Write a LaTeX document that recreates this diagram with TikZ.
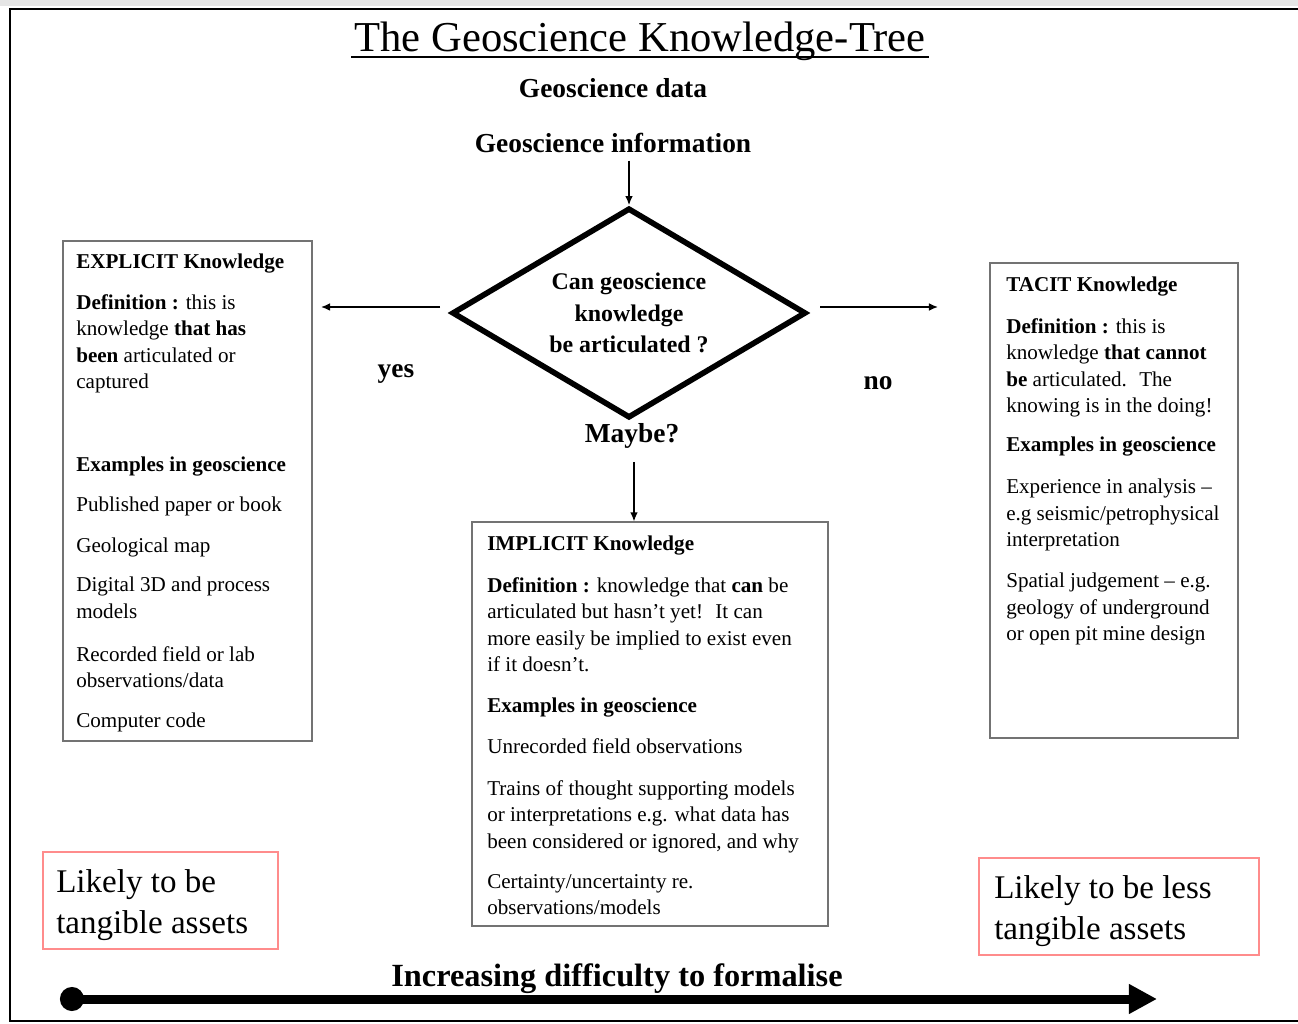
\documentclass[tikz,border=0pt]{standalone}
\usepackage{fontspec}
\setmainfont{Liberation Serif}
\usetikzlibrary{arrows.meta,shapes.geometric,fit}
\tikzset{
  >={Latex[length=6.5pt,width=5.5pt]},
  kbox/.style={draw=gray!90!black,line width=0.8pt,inner sep=0pt},
  abox/.style={draw=red!45,line width=0.8pt,inner sep=0pt},
  ktxt/.style={anchor=north west,inner sep=0pt,align=left,font=\fontsize{15}{18.8}\selectfont},
  khead/.style={anchor=west,inner sep=0pt,font=\fontsize{15}{18}\selectfont\bfseries},
  atxt/.style={anchor=north west,inner sep=0pt,align=left,font=\fontsize{23.5}{29.5}\selectfont},
  lbl/.style={anchor=base,inner sep=0pt,font=\fontsize{19.5}{24}\selectfont\bfseries},
  qdia/.style={diamond,draw,line width=4pt,aspect=1.68,minimum width=8.85cm,minimum height=5.25cm,inner sep=0pt,align=center,font=\fontsize{17}{22.4}\selectfont\bfseries},
  conn/.style={->,line width=1pt},
  difarrow/.style={{Circle[length=17pt]}-{Triangle[length=20pt,width=20pt]},line width=6.4pt},
}
\begin{document}
\begin{tikzpicture}[x=0.025cm,y=-0.025cm]
\useasboundingbox (0,0) rectangle (1298,1024);

% --- Frame and title -------------------------------------------------------

  \fill[gray!20] (0,0) rectangle (1298,6);
  \draw[line width=1.2pt] (1298,9) -- (10,9) -- (10,1021) -- (1298,1021);

  \node[anchor=base,inner sep=0pt,font=\fontsize{30.3}{36}\selectfont] (title) at (640,52) {The Geoscience Knowledge-Tree};
  \draw[line width=0.9pt] ([xshift=-2pt,yshift=-3.5pt]title.base west) -- ([xshift=2pt,yshift=-3.5pt]title.base east);

  \node[lbl] (gdata) at (613,98) {Geoscience data};

  \node[lbl] (ginfo) at (613,153) {Geoscience information};

% --- Decision ---------------------------------------------------------------

  \node[qdia] (dq) at (629,313) {Can geoscience\\knowledge\\be articulated ?};

  \node[lbl] (maybe) at (632,443) {Maybe?};

  \node[lbl] (yes) at (396,378) {yes};

  \node[lbl] (no) at (878,390) {no};

% --- Knowledge boxes --------------------------------------------------------

  \node[kbox,fit={(63,241) (312,741)}] (expl) {};

  \node[khead] (expl_h) at (76,264) {EXPLICIT Knowledge};
  \node[ktxt] (expl_def) at (76,294) {{\bfseries Definition :} this is\\knowledge {\bfseries that has}\\{\bfseries been} articulated or\\captured};
  \node[khead] (expl_ex) at (76,467) {Examples in geoscience};
  \node[ktxt] (expl_1) at (76,497) {Published paper or book};
  \node[ktxt] (expl_2) at (76,538) {Geological map};
  \node[ktxt] (expl_3) at (76,577) {Digital 3D and process\\models};
  \node[ktxt] (expl_4) at (76,646) {Recorded field or lab\\observations/data};
  \node[ktxt] (expl_5) at (76,713) {Computer code};

  \node[kbox,fit={(472,522) (828,926)}] (impl) {};

  \node[khead] (impl_h) at (487,546) {IMPLICIT Knowledge};
  \node[ktxt] (impl_def) at (487,577) {{\bfseries Definition :} knowledge that {\bfseries can} be\\articulated but hasn't yet!~ It can\\more easily be implied to exist even\\if it doesn't.};
  \node[khead] (impl_ex) at (487,708) {Examples in geoscience};
  \node[ktxt] (impl_1) at (487,738) {Unrecorded field observations};
  \node[ktxt] (impl_2) at (487,780) {Trains of thought supporting models\\or interpretations e.g. what data has\\been considered or ignored, and why};
  \node[ktxt] (impl_3) at (487,874) {Certainty/uncertainty re.\\observations/models};

  \node[kbox,fit={(990,263) (1238,738)}] (tacit) {};

  \node[khead] (tacit_h) at (1006,287) {TACIT Knowledge};
  \node[ktxt] (tacit_def) at (1006,318) {{\bfseries Definition :} this is\\knowledge {\bfseries that cannot}\\{\bfseries be} articulated.~ The\\knowing is in the doing!};
  \node[khead] (tacit_ex) at (1006,447) {Examples in geoscience};
  \node[ktxt] (tacit_1) at (1006,479) {Experience in analysis --\\e.g seismic/petrophysical\\interpretation};
  \node[ktxt] (tacit_2) at (1006,573) {Spatial judgement -- e.g.\\geology of underground\\or open pit mine design};

% --- Asset boxes and scale --------------------------------------------------

  \node[abox,fit={(43,852) (278,949)}] (asset_l) {};
  \node[atxt] (asset_l_t) at (56,869) {Likely to be\\tangible assets};

  \node[abox,fit={(979,858) (1259,955)}] (asset_r) {};
  \node[atxt] (asset_r_t) at (994,875) {Likely to be less\\tangible assets};

  \node[anchor=base,inner sep=0pt,font=\fontsize{23}{28}\selectfont\bfseries] (difficulty) at (617,986) {Increasing difficulty to formalise};

% --- Edges -----------------------------------------------------------------

  \coordinate (yes_s) at (440,307);
  \coordinate (no_s) at (820,307);
  \coordinate (no_e) at (938,307);
  \coordinate (may_s) at (634,462);
  \coordinate (dif_l) at (60,999);
  \coordinate (dif_r) at (1157,999);

  \draw[conn,shorten <=5pt] (ginfo.south -| dq.north) -- (dq.north);

  \draw[conn,shorten >=6pt] (yes_s) -- (yes_s -| expl.east);

  \draw[conn] (no_s) -- (no_e);

  \draw[conn] (may_s) -- (may_s |- impl.north);

  \draw[difarrow] (dif_l) -- (dif_r);

\end{tikzpicture}
\end{document}
